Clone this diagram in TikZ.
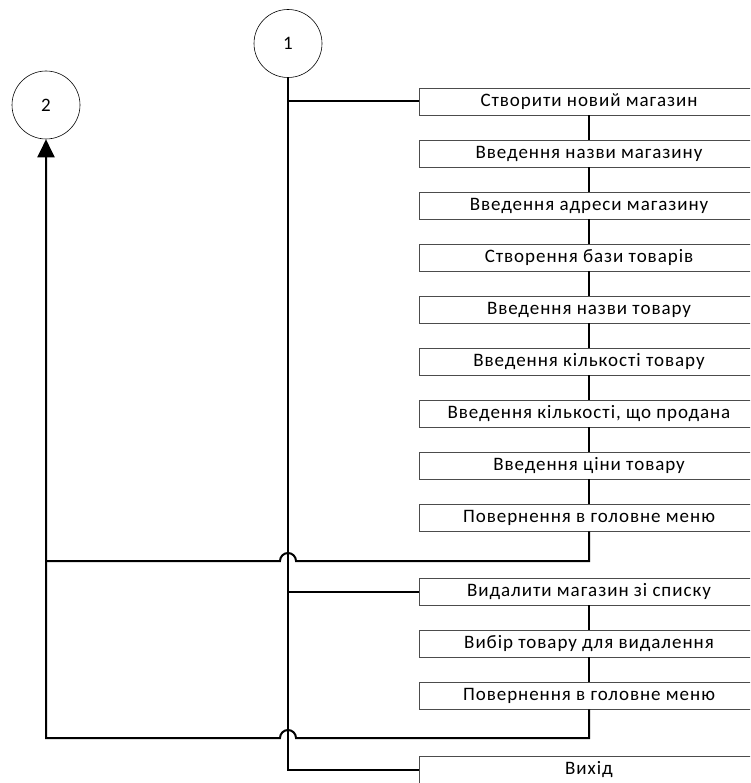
\documentclass[tikz,border=0pt]{standalone}
\usepackage{fontspec}
\setmainfont{Carlito}[LetterSpace=5]
\usetikzlibrary{arrows.meta}

\begin{document}
\begin{tikzpicture}[x=1pt,y=1pt]

\tikzset{menubox/.style={draw=black!70,line width=0.8pt,minimum width=340pt,minimum height=27pt,inner sep=0pt,font=\fontsize{19}{22}\selectfont},}
\tikzset{conn/.style={circle,draw,line width=0.6pt,minimum size=68pt,inner sep=0pt,font=\fontsize{19}{22}\selectfont},}
\tikzset{link/.style={line width=2pt},}

\clip (0,0) rectangle (750,-783);

  \draw (288,-43.5) node[conn](c1) {1};
  \draw (46,-105) node[conn](c2) {2};

  \draw (589,-101.5) node[menubox](b1) {Створити новий магазин};
  \draw (589,-153.5) node[menubox](b2) {Введення назви магазину};
  \draw (589,-205.5) node[menubox](b3) {Введення адреси магазину};
  \draw (589,-257.5) node[menubox](b4) {Створення бази товарів};
  \draw (589,-309.5) node[menubox](b5) {Введення назви товару};
  \draw (589,-361.5) node[menubox](b6) {Введення кількості товару};
  \draw (589,-413.5) node[menubox](b7) {Введення кількості, що продана};
  \draw (589,-465.5) node[menubox](b8) {Введення ціни товару};
  \draw (589,-517.5) node[menubox](b9) {Повернення в головне меню};

  \draw (589,-591.5) node[menubox](d1) {Видалити магазин зі списку};
  \draw (589,-643.5) node[menubox](d2) {Вибір товару для видалення};
  \draw (589,-695.5) node[menubox](d3) {Повернення в головне меню};

  \draw (589,-770) node[menubox](ex) {Вихід};

  \coordinate (ret1) at (589,-561);
  \coordinate (ret2) at (589,-738);

  %main line and branches
    \draw[link, line width=2.6pt] (c1.south) |- (ex.west);
    \draw[link] (c1.south |- b1.west) -- (b1.west);
    \draw[link] (c1.south |- d1.west) -- (d1.west);

  %steps inside the menus
    \draw[link] (b1) -- (b2);
    \draw[link] (b2) -- (b3);
    \draw[link] (b3) -- (b4);
    \draw[link] (b4) -- (b5);
    \draw[link] (b5) -- (b6);
    \draw[link] (b6) -- (b7);
    \draw[link] (b7) -- (b8);
    \draw[link] (b8) -- (b9);
    \draw[link] (d1) -- (d2);
    \draw[link] (d2) -- (d3);

  %back to 2
    \draw[link, -{Triangle[length=18pt,width=17pt]}] (b9.south) -- (ret1) -- ([xshift=8pt]ret1 -| c1.south) arc[start angle=0,end angle=180,radius=8pt] -- (ret1 -| c2.south) -- (c2.south);
    \draw[link] (d3.south) -- (ret2) -- ([xshift=8pt]ret2 -| c1.south) arc[start angle=0,end angle=180,radius=8pt] -- (ret2 -| c2.south) -- (ret1 -| c2.south);

\end{tikzpicture}
\end{document}
